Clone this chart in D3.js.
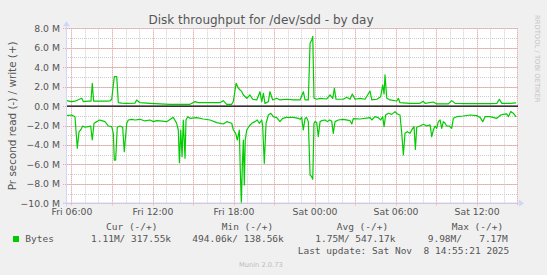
<!DOCTYPE html>
<html>
<head>
<meta charset="utf-8">
<script src="https://cdn.jsdelivr.net/npm/d3@7"></script>
<style>
  html, body { margin: 0; padding: 0; background: #f0f0f0; }
  svg { display: block; }
  text { font-family: "DejaVu Sans", sans-serif; fill: #555; }
  .mono { font-family: "DejaVu Sans Mono", monospace; white-space: pre; }
</style>
</head>
<body>
<svg width="547" height="275"></svg>
<script>
// hours counted from Fri 00:00, values in MB/s
var writeHours = [5.64, 6.01, 6.26, 6.76, 6.87, 7.24, 7.44, 7.54, 7.64, 8.11, 8.61, 8.85, 8.98, 9.17, 9.35, 9.47, 9.72, 10.09, 10.70, 10.83,
  11.07, 11.81, 12.56, 13.30, 14.04, 14.78, 15.15, 15.39, 16.26, 17.00, 17.24, 17.50, 17.87, 17.99, 18.19, 18.36, 18.61, 18.73, 18.98, 19.22,
  19.42, 19.72, 19.96, 20.09, 20.21, 20.33, 20.58, 20.70, 20.90, 21.20, 21.44, 21.94, 22.43, 22.93, 23.17, 23.30, 23.54, 23.67, 23.79, 23.87,
  23.96, 24.16, 24.41, 24.90, 25.15, 25.35, 25.47, 25.59, 26.13, 26.39, 26.63, 26.80, 27.00, 27.37, 27.74, 28.11, 28.24, 28.61, 28.90, 29.05,
  29.15, 29.22, 29.35, 29.59, 30.09, 30.21, 30.33, 31.07, 31.81, 32.06, 32.19, 32.80, 33.05, 33.91, 34.16, 34.41, 35.27, 36.01, 37.00, 37.50,
  37.69, 37.87, 38.48, 38.93];
var writeValues = [0.56, 0.46, 0.50, 0.80, 0.46, 0.50, 0.50, 2.34, 0.50, 0.52, 0.50, 0.52, 0.70, 3.03, 3.03, 0.35, 0.30, 0.28, 0.30, 0.63,
  0.35, 0.28, 0.22, 0.18, 0.18, 0.18, 0.46, 0.35, 0.35, 0.35, 0.56, 0.18, 0.18, 0.50, 2.34, 1.83, 1.48, 1.14, 0.80, 1.14,
  0.70, 0.63, 1.48, 0.46, 1.31, 0.28, 0.46, 1.48, 0.63, 0.80, 0.63, 0.70, 0.63, 0.63, 1.48, 0.63, 0.63, 6.46, 6.80, 7.17,
  0.80, 0.70, 0.80, 0.73, 1.14, 0.80, 1.83, 0.70, 0.70, 0.90, 0.70, 1.24, 0.70, 0.80, 0.70, 1.55, 0.63, 0.70, 0.97, 2.17,
  1.24, 3.20, 0.80, 0.63, 0.52, 0.80, 0.35, 0.28, 0.28, 0.49, 0.28, 0.42, 0.22, 0.22, 0.56, 0.28, 0.25, 0.25, 0.25, 0.28,
  0.70, 0.28, 0.28, 0.32];

var readHours = [5.64, 6.01, 6.26, 6.33, 6.43, 6.56, 6.68, 6.83, 7.00, 7.24, 7.42, 7.54, 7.67, 7.87, 8.06, 8.24, 8.48, 8.73, 8.98, 9.10,
  9.17, 9.27, 9.39, 9.59, 9.79, 9.91, 10.09, 10.21, 10.46, 10.70, 11.07, 11.44, 11.81, 12.06, 12.31, 12.56, 13.05, 13.54, 13.79, 13.91,
  13.99, 14.09, 14.19, 14.28, 14.41, 14.48, 14.61, 14.78, 15.27, 15.76, 16.26, 16.76, 17.24, 17.50, 17.87, 17.99, 18.16, 18.28, 18.43, 18.50,
  18.58, 18.65, 18.73, 18.80, 18.87, 18.98, 19.17, 19.35, 19.59, 19.76, 19.91, 20.09, 20.16, 20.28, 20.41, 20.58, 20.76, 20.95, 21.20, 21.44,
  21.64, 21.94, 22.43, 22.80, 22.93, 23.05, 23.17, 23.30, 23.42, 23.54, 23.67, 23.79, 23.87, 23.96, 24.04, 24.16, 24.28, 24.41, 24.53, 24.78,
  24.95, 25.10, 25.27, 25.39, 25.52, 25.76, 26.13, 26.63, 26.76, 26.87, 27.37, 28.11, 28.24, 28.48, 28.72, 28.90, 29.05, 29.15, 29.27, 29.47,
  29.72, 29.96, 30.14, 30.33, 30.46, 30.58, 30.70, 30.87, 31.07, 31.27, 31.37, 31.47, 31.57, 31.81, 32.06, 32.31, 32.56, 32.68, 32.80, 32.93,
  33.05, 33.17, 33.30, 33.42, 33.54, 33.67, 33.79, 33.99, 34.16, 34.28, 34.53, 35.02, 35.52, 36.01, 36.26, 36.46, 36.63, 37.00, 37.50, 37.79,
  37.99, 38.24, 38.36, 38.53, 38.73, 38.93];
var readValues = [-0.98, -0.92, -1.09, -2.46, -4.34, -2.63, -2.46, -2.05, -2.18, -2.12, -2.05, -3.49, -1.77, -1.60, -1.43, -1.50, -1.60, -2.05, -2.12, -2.80,
  -5.55, -5.55, -2.18, -2.05, -2.18, -4.69, -1.77, -1.43, -1.36, -1.43, -1.36, -1.53, -1.43, -1.60, -1.50, -1.53, -1.60, -1.16, -1.77, -2.46,
  -5.82, -2.46, -5.20, -1.43, -5.37, -1.43, -1.09, -1.26, -1.19, -1.33, -1.43, -1.70, -1.84, -1.60, -1.77, -2.46, -2.80, -3.49, -2.46, -6.57,
  -9.98, -6.23, -3.49, -8.12, -3.49, -2.46, -2.05, -1.77, -1.60, -1.43, -1.77, -1.43, -2.05, -5.89, -1.77, -0.92, -0.74, -1.09, -1.19, -1.60,
  -1.26, -1.16, -1.16, -1.26, -1.36, -1.16, -2.46, -1.26, -1.19, -1.60, -7.09, -7.26, -7.53, -1.77, -1.60, -1.70, -3.14, -1.60, -1.50, -1.43,
  -1.60, -1.43, -1.53, -2.80, -1.60, -1.43, -1.36, -1.50, -1.84, -1.29, -1.33, -1.19, -1.43, -1.09, -1.19, -1.43, -1.09, -2.12, -0.92, -0.74,
  -0.85, -0.57, -0.81, -0.92, -2.80, -5.03, -2.80, -2.63, -2.80, -2.29, -2.12, -4.45, -2.18, -2.05, -1.87, -2.05, -1.94, -3.14, -2.46, -2.05,
  -2.29, -1.60, -1.43, -2.29, -1.60, -1.77, -2.05, -2.05, -2.29, -1.26, -1.09, -1.02, -0.92, -0.98, -1.16, -1.60, -1.09, -1.09, -1.26, -0.92,
  -0.85, -0.81, -1.09, -0.57, -0.74, -1.11];

var viewHours = [5.593, 39.07];
var legendHeaders = ["Cur (-/+)", "Min (-/+)", "Avg (-/+)", "Max (-/+)"];
var legendValues = ["1.11M/ 317.55k", "494.06k/ 138.56k", "1.75M/ 547.17k", "9.98M/   7.17M"];
var lastUpdate = "Last update: Sat Nov  8 14:55:21 2025";

var base = new Date(2025, 10, 7).getTime();
function hourDate(h) { return new Date(base + h * 3600e3); }

var svg = d3.select("svg");
var pLeft = 66, pRight = 518, pTop = 28.3, pBottom = 203.3;

var x = d3.scaleTime().domain(viewHours.map(hourDate)).range([pLeft, pRight]);
var y = d3.scaleLinear().domain([-10, 8]).range([pBottom, pTop]);

svg.append("rect").attr("x", pLeft).attr("y", pTop - 0.5)
  .attr("width", pRight - pLeft).attr("height", pBottom - pTop + 0.5).attr("fill", "#fff");

function px(v) { return Math.round(v) + 0.5; }

// minor grid
var grid = svg.append("g").attr("stroke-dasharray", "1,1").attr("stroke-width", 1);
grid.selectAll(".vmin").data(x.ticks(d3.timeHour.every(1))).enter().append("line")
  .attr("x1", d => px(x(d))).attr("x2", d => px(x(d)))
  .attr("y1", pTop).attr("y2", pBottom).attr("stroke", "#cccccc");
grid.selectAll(".hmin").data(d3.range(-10, 8.01, 1)).enter().append("line")
  .attr("y1", d => px(y(d))).attr("y2", d => px(y(d)))
  .attr("x1", pLeft).attr("x2", pRight).attr("stroke", "#cccccc");
// major grid
grid.selectAll(".vmaj").data(x.ticks(d3.timeHour.every(3))).enter().append("line")
  .attr("x1", d => px(x(d))).attr("x2", d => px(x(d)))
  .attr("y1", pTop).attr("y2", pBottom + 3).attr("stroke", "#eea6a6");
grid.selectAll(".hmaj").data(d3.range(-10, 8.01, 2)).enter().append("line")
  .attr("y1", d => px(y(d))).attr("y2", d => px(y(d)))
  .attr("x1", pLeft - 3).attr("x2", pRight).attr("stroke", "#eea6a6");

// axes labels
var xAxis = svg.append("g").attr("transform", "translate(0," + pBottom + ")")
  .call(d3.axisBottom(x).ticks(d3.timeHour.every(6)).tickFormat(d3.timeFormat("%a %H:%M")).tickSize(0).tickPadding(5.5));
var yAxis = svg.append("g").attr("transform", "translate(" + pLeft + ",0)")
  .call(d3.axisLeft(y).tickValues(d3.range(-10, 8.01, 2)).tickFormat(d => d3.format(".1f")(d) + " M").tickSize(0).tickPadding(6));
[xAxis, yAxis].forEach(function(g) {
  g.select(".domain").remove();
  g.selectAll("text").attr("font-family", "DejaVu Sans, sans-serif").attr("font-size", 9.3).attr("fill", "#555");
});

// zero line
svg.append("line").attr("x1", pLeft).attr("x2", pRight).attr("y1", y(0)).attr("y2", y(0))
  .attr("stroke", "#000").attr("stroke-width", 1.3);

var line = d3.line().x(d => x(hourDate(d[0]))).y(d => y(d[1]));
svg.append("path").datum(d3.zip(writeHours, writeValues)).attr("d", line)
  .attr("fill", "none").attr("stroke", "#00cc00").attr("stroke-width", 1.2).attr("stroke-linejoin", "round");
svg.append("path").datum(d3.zip(readHours, readValues)).attr("d", line)
  .attr("fill", "none").attr("stroke", "#00cc00").attr("stroke-width", 1.2).attr("stroke-linejoin", "round");

// axis lines with arrows
var axisColor = "#cfd6f8";
svg.append("line").attr("x1", pLeft - 3).attr("x2", pRight + 2).attr("y1", px(pBottom) - 0.5).attr("y2", px(pBottom) - 0.5)
  .attr("stroke", axisColor);
svg.append("path").attr("d", "M" + (pRight + 1) + "," + (pBottom - 3.5) + "L" + (pRight + 6) + "," + pBottom + "L" + (pRight + 1) + "," + (pBottom + 3.5) + "Z")
  .attr("fill", axisColor);
svg.append("line").attr("x1", px(pLeft)).attr("x2", px(pLeft)).attr("y1", pBottom + 3).attr("y2", pTop - 3)
  .attr("stroke", axisColor);
svg.append("path").attr("d", "M" + (pLeft - 3) + "," + (pTop - 2) + "L" + (pLeft + 0.5) + "," + (pTop - 7) + "L" + (pLeft + 4) + "," + (pTop - 2) + "Z")
  .attr("fill", axisColor);

// titles
svg.append("text").attr("x", 261).attr("y", 24).attr("text-anchor", "middle")
  .attr("font-size", 12).text("Disk throughput for /dev/sdd - by day");
svg.append("text").attr("transform", "translate(15.5," + (pTop + pBottom) / 2 + ") rotate(-90)")
  .attr("text-anchor", "middle").attr("dy", 0).attr("font-size", 10.4).text("Pr second read (-) / write (+)");
svg.append("text").attr("transform", "translate(535,15) rotate(90)")
  .attr("font-size", 6.8).style("fill", "#c4c4c4").text("RRDTOOL / TOBI OETIKER");

// legend
svg.append("rect").attr("x", 13).attr("y", 236).attr("width", 6).attr("height", 6).attr("fill", "#00cc00");
svg.append("text").attr("class", "mono").attr("x", 25.3).attr("y", 242).attr("font-size", 9.5).text("Bytes");
var headerX = [106, 221.7, 336.7, 451.7];
var valueX = [91, 192.3, 315.3, 427.7];
legendHeaders.forEach(function(t, i) {
  svg.append("text").attr("class", "mono").attr("x", headerX[i]).attr("y", 230).attr("font-size", 9.5).text(t);
});
legendValues.forEach(function(t, i) {
  svg.append("text").attr("class", "mono").attr("x", valueX[i]).attr("y", 242).attr("font-size", 9.5).text(t);
});
svg.append("text").attr("class", "mono").attr("x", 297.7).attr("y", 254).attr("font-size", 9.5).text(lastUpdate);
svg.append("text").attr("x", 260.8).attr("y", 266.5).attr("text-anchor", "middle")
  .attr("font-size", 6.7).style("fill", "#bbb").text("Munin 2.0.73");
</script>
</body>
</html>
